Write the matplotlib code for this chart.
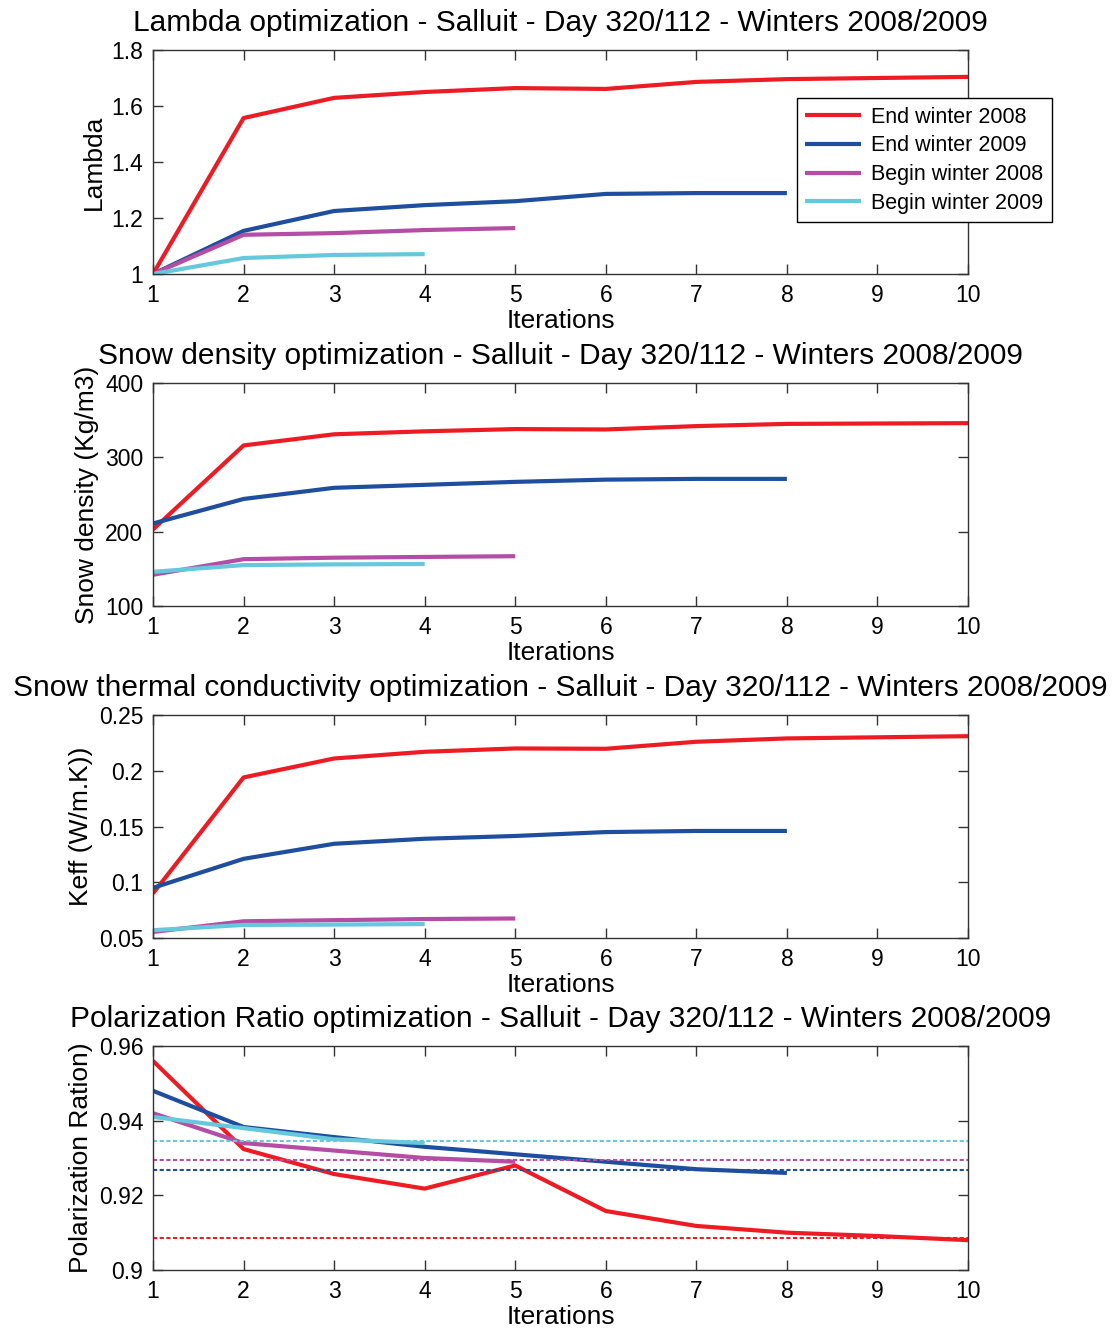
import matplotlib
matplotlib.use("Agg")
from matplotlib import pyplot as plt

plt.rcParams['font.family'] = ['Liberation Sans', 'DejaVu Sans']

iterations = [1, 2, 3, 4, 5, 6, 7, 8, 9, 10]
labels = ["End winter 2008", "End winter 2009", "Begin winter 2008", "Begin winter 2009"]
colors = ["#ED1C24", "#1F4E9F", "#B44DA3", "#66C8DC"]

# lambda
lambda_end08 = [1.0, 1.557, 1.629, 1.65, 1.664, 1.661, 1.686, 1.696, 1.70, 1.704]
lambda_end09 = [1.0, 1.154, 1.225, 1.246, 1.26, 1.286, 1.289, 1.289]
lambda_beg08 = [1.0, 1.14, 1.146, 1.157, 1.164]
lambda_beg09 = [1.0, 1.057, 1.068, 1.071]

# snow density
dens_end08 = [203, 316, 331, 335, 338, 337.5, 342, 345, 345.5, 346]
dens_end09 = [211, 244, 259, 263, 267, 270, 271, 271]
dens_beg08 = [142, 163, 165, 166, 167]
dens_beg09 = [146, 155, 156, 156.5]

# thermal conductivity
keff_end08 = [0.090, 0.194, 0.211, 0.217, 0.220, 0.2197, 0.226, 0.229, 0.230, 0.231]
keff_end09 = [0.095, 0.121, 0.1345, 0.139, 0.1415, 0.145, 0.146, 0.146]
keff_beg08 = [0.0554, 0.065, 0.066, 0.067, 0.0675]
keff_beg09 = [0.057, 0.0617, 0.062, 0.0625]

# polarization ratio
pr_end08 = [0.956, 0.9324, 0.9257, 0.9218, 0.928, 0.9158, 0.9118, 0.910, 0.9091, 0.908]
pr_end09 = [0.948, 0.9383, 0.9356, 0.933, 0.931, 0.929, 0.927, 0.926]
pr_beg08 = [0.942, 0.934, 0.932, 0.930, 0.929]
pr_beg09 = [0.941, 0.938, 0.935, 0.934]
pr_observed = [0.9086, 0.9267, 0.9295, 0.9345]  # end08, end09, beg08, beg09

panels = [
    ("Lambda optimization - Salluit - Day 320/112 - Winters 2008/2009", "Lambda",
     [lambda_end08, lambda_end09, lambda_beg08, lambda_beg09], (1.0, 1.8),
     [1, 1.2, 1.4, 1.6, 1.8], ["1", "1.2", "1.4", "1.6", "1.8"]),
    ("Snow density optimization - Salluit - Day 320/112 - Winters 2008/2009", "Snow density (Kg/m3)",
     [dens_end08, dens_end09, dens_beg08, dens_beg09], (100, 400),
     [100, 200, 300, 400], ["100", "200", "300", "400"]),
    ("Snow thermal conductivity optimization - Salluit - Day 320/112 - Winters 2008/2009", "Keff (W/m.K))",
     [keff_end08, keff_end09, keff_beg08, keff_beg09], (0.05, 0.25),
     [0.05, 0.1, 0.15, 0.2, 0.25], ["0.05", "0.1", "0.15", "0.2", "0.25"]),
    ("Polarization Ratio optimization - Salluit - Day 320/112 - Winters 2008/2009", "Polarization Ration)",
     [pr_end08, pr_end09, pr_beg08, pr_beg09], (0.9, 0.96),
     [0.9, 0.92, 0.94, 0.96], ["0.9", "0.92", "0.94", "0.96"]),
]

fig = plt.figure(figsize=(11.12, 13.29), dpi=100)
left = 153 / 1112
width = (968 - 153) / 1112
tops = [50, 383, 715, 1046]
bottoms = [274, 606, 938, 1270]

for k, (title, ylabel, series, ylim, yticks, yticklabels) in enumerate(panels):
    ax = fig.add_axes([left, 1 - bottoms[k] / 1329, width, (bottoms[k] - tops[k]) / 1329])
    for s, lab, c in zip(series, labels, colors):
        ax.plot(iterations[:len(s)], s, color=c, lw=3, label=lab, solid_capstyle="butt")
    if k == 3:
        for val, c in zip(pr_observed, colors):
            ax.axhline(val, color=c, lw=1.5, ls=(0, (2, 1.2)))
    ax.set_xlim(1, 10)
    ax.set_ylim(*ylim)
    ax.set_xticks(iterations)
    ax.set_yticks(yticks)
    ax.set_yticklabels(yticklabels)
    ax.tick_params(direction="in", length=7, width=1, top=True, right=True,
                   labelsize=16.5, color="#333333", pad=7)
    for sp in ax.spines.values():
        sp.set_color("#333333")
        sp.set_linewidth(1)
    ax.set_title(title, fontsize=21.5, pad=14)
    ax.set_xlabel("Iterations", fontsize=19, labelpad=2)
    ax.set_ylabel(ylabel, fontsize=19, labelpad=4)
    if k == 0:
        leg = ax.legend(loc="upper left", bbox_to_anchor=(0.79, 0.786), fontsize=15.5,
                        handlelength=2.6, handletextpad=0.45, borderpad=0.4,
                        labelspacing=0.36, borderaxespad=0, fancybox=False, framealpha=1)
        leg.get_frame().set_edgecolor("black")
        leg.get_frame().set_linewidth(1)

plt.savefig("out.png", dpi=100)
